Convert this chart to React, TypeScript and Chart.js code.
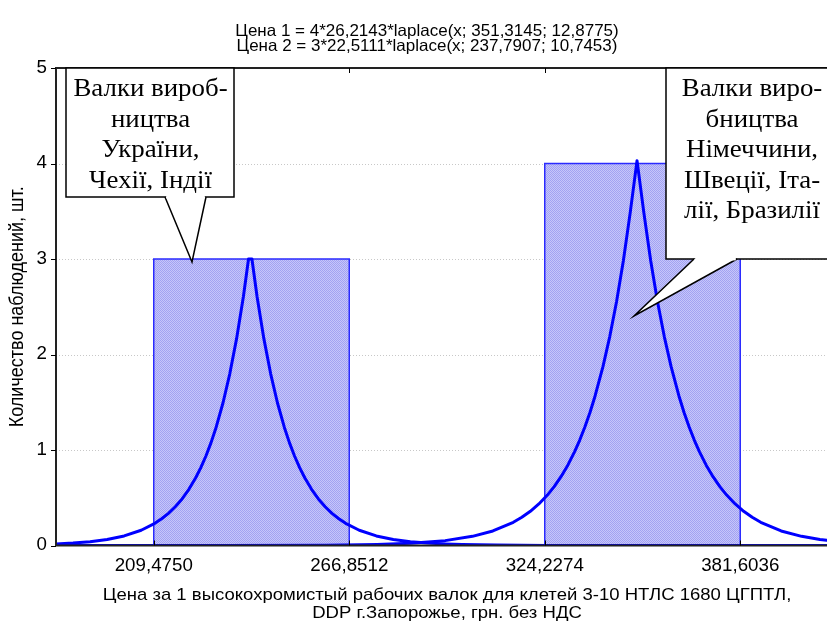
import React, { useEffect, useRef } from "react";
import { Chart, registerables } from "chart.js";

Chart.register(...registerables);

// ---------- data ----------
const titleLines = [
  "Цена 1 = 4*26,2143*laplace(x; 351,3145; 12,8775)",
  "Цена 2 = 3*22,5111*laplace(x; 237,7907; 10,7453)",
];
const xTitleLines = [
  "Цена за 1 высокохромистый рабочих валок для клетей 3-10 НТЛС 1680 ЦГПТЛ,",
  "DDP г.Запорожье, грн. без НДС",
];
const yTitle = "Количество наблюдений, шт.";

const binEdges = [209.475, 266.8512, 324.2274, 381.6036];
const binCounts = [3, 0, 4];
const xMin = 180.7869;
const xMax = 410.2917;
const yTicks = [0, 1, 2, 3, 4, 5];

// Цена 2 (centre ~237.8)
const curve2X = [
  180.79, 185.79, 190.79, 195.79, 200.79, 205.79, 209.79, 211.79, 213.79, 215.79,
  217.79, 219.79, 221.79, 223.29, 224.79, 226.29, 227.79, 229.79, 231.79, 233.79,
  235.79, 237.29, 238.29, 239.79, 241.79, 243.79, 245.79, 247.79, 249.29, 250.79,
  252.29, 253.79, 255.79, 257.79, 259.79, 261.79, 263.79, 265.79, 269.79, 274.79,
  279.79, 284.79, 289.79, 294.79, 300.0, 310.0, 325.0, 350.0, 410.29,
];
const curve2Y = [
  0.016, 0.025, 0.04, 0.063, 0.1, 0.16, 0.232, 0.28, 0.337, 0.406,
  0.488, 0.588, 0.709, 0.815, 0.937, 1.077, 1.239, 1.492, 1.798, 2.166,
  2.608, 3.0, 3.0, 2.608, 2.166, 1.798, 1.492, 1.239, 1.077, 0.937,
  0.815, 0.709, 0.588, 0.488, 0.406, 0.337, 0.28, 0.232, 0.16, 0.1,
  0.063, 0.04, 0.025, 0.016, 0.01, 0.004, 0.001, 0.0, 0.0,
];

// Цена 1 (centre ~351.3)
const curve1X = [
  180.79, 230.0, 260.0, 275.0, 285.0, 295.0, 303.0, 309.0, 315.0, 317.5,
  320.0, 322.5, 325.0, 327.0, 329.0, 331.0, 333.0, 334.5, 336.0, 337.5,
  339.0, 341.31, 343.31, 345.31, 347.31, 349.31, 351.31, 353.31, 355.31, 357.31,
  359.31, 361.31, 363.61, 365.11, 366.61, 368.11, 369.61, 371.61, 373.61, 375.61,
  377.61, 380.11, 382.61, 385.11, 387.61, 393.61, 399.61, 405.0, 410.29,
];
const curve1Y = [
  0.0, 0.0, 0.003, 0.011, 0.024, 0.051, 0.096, 0.152, 0.243, 0.295,
  0.358, 0.435, 0.528, 0.616, 0.721, 0.841, 0.983, 1.104, 1.241, 1.393,
  1.566, 1.873, 2.188, 2.555, 2.984, 3.486, 4.03, 3.486, 2.984, 2.555,
  2.188, 1.873, 1.566, 1.393, 1.241, 1.104, 0.983, 0.841, 0.721, 0.616,
  0.528, 0.435, 0.358, 0.295, 0.243, 0.152, 0.096, 0.063, 0.042,
];

const callout1Lines = ["Валки вироб-", "ництва", "України,", "Чехії, Індії"];
const callout2Lines = ["Валки виро-", "бництва", "Німеччини,", "Швеції, Іта-", "лії, Бразилії"];

// ---------- helpers ----------
const SANS = '"Liberation Sans", Arial, sans-serif';
const SERIF = '"Liberation Serif", "Times New Roman", serif';
const SX = 1.07;

function drawText(
  ctx: CanvasRenderingContext2D,
  text: string,
  x: number,
  y: number,
  font: string,
  align: CanvasTextAlign,
  sx: number,
  baseline: CanvasTextBaseline = "middle"
) {
  ctx.save();
  ctx.translate(x, y);
  ctx.scale(sx, 1);
  ctx.font = font;
  ctx.textAlign = align;
  ctx.textBaseline = baseline;
  ctx.fillStyle = "#000";
  ctx.fillText(text, 0, 0);
  ctx.restore();
}

function drawCallout(
  ctx: CanvasRenderingContext2D,
  box: [number, number, number, number],
  ptr: [number, number, number, number, number, number],
  lines: string[],
  cx: number,
  firstBaseline: number,
  lineGap: number
) {
  const [l, t, r, b] = box;
  const [bx1, by1, bx2, by2, tx, ty] = ptr;
  ctx.save();
  ctx.fillStyle = "#fff";
  ctx.strokeStyle = "#000";
  ctx.lineWidth = 1.5;
  ctx.lineJoin = "miter";
  ctx.fillRect(l, t, r - l, b - t);
  ctx.strokeRect(l, t, r - l, b - t);
  ctx.beginPath();
  ctx.moveTo(bx1, by1);
  ctx.lineTo(tx, ty);
  ctx.lineTo(bx2, by2);
  ctx.closePath();
  ctx.fill();
  ctx.beginPath();
  ctx.moveTo(bx1, by1);
  ctx.lineTo(tx, ty);
  ctx.lineTo(bx2, by2);
  ctx.stroke();
  ctx.fillRect(bx1 + 1.2, by1 - 1.2, bx2 - bx1 - 2.4, 2.6);
  ctx.restore();
  lines.forEach((s, i) => {
    drawText(ctx, s, cx, firstBaseline + i * lineGap, `25px ${SERIF}`, "center", 1.075, "alphabetic");
  });
}

function fmt(v: number) {
  return v.toFixed(4).replace(".", ",");
}

export default function App() {
  const ref = useRef<HTMLCanvasElement | null>(null);

  useEffect(() => {
    const canvas = ref.current;
    if (!canvas) return;

    const pc = document.createElement("canvas");
    pc.width = 2;
    pc.height = 2;
    const pctx = pc.getContext("2d")!;
    pctx.fillStyle = "#c6c6fa";
    pctx.fillRect(0, 0, 2, 2);
    pctx.fillStyle = "#a2a2f2";
    pctx.fillRect(0, 0, 1, 1);
    pctx.fillRect(1, 1, 1, 1);
    const pattern = canvas.getContext("2d")!.createPattern(pc, "repeat")!;

    const barDatasets: any[] = [];
    binCounts.forEach((c, i) => {
      if (c <= 0) return;
      const a = binEdges[i];
      const b = binEdges[i + 1];
      barDatasets.push({
        data: [
          { x: a, y: 0 },
          { x: a, y: c },
          { x: b, y: c },
          { x: b, y: 0 },
        ],
        showLine: true,
        fill: "origin",
        backgroundColor: pattern,
        borderColor: "#2b2bff",
        borderWidth: 1.5,
        pointRadius: 0,
        tension: 0,
        order: 5,
      });
    });

    const curveDs = (xs: number[], ys: number[]) => ({
      data: xs.map((x, i) => ({ x, y: ys[i] })),
      showLine: true,
      fill: false,
      borderColor: "#0000ff",
      borderWidth: 3,
      pointRadius: 0,
      tension: 0,
      order: 1,
      borderJoinStyle: "round" as const,
      borderCapStyle: "round" as const,
    });

    const decor = {
      id: "decor",
      beforeDatasetsDraw(chart: any) {
        const ctx: CanvasRenderingContext2D = chart.ctx;
        const { left, right } = chart.chartArea;
        const ys = chart.scales.y;
        ctx.save();
        ctx.strokeStyle = "#c8c8c8";
        ctx.lineWidth = 1;
        ctx.setLineDash([1, 2]);
        yTicks.slice(1, -1).forEach((v) => {
          const py = Math.round(ys.getPixelForValue(v)) + 0.5;
          ctx.beginPath();
          ctx.moveTo(left, py);
          ctx.lineTo(right, py);
          ctx.stroke();
        });
        ctx.restore();
      },
      afterDatasetsDraw(chart: any) {
        const ctx: CanvasRenderingContext2D = chart.ctx;
        const { left, right, top, bottom } = chart.chartArea;
        const xs = chart.scales.x;
        const ys = chart.scales.y;
        ctx.save();
        ctx.strokeStyle = "#222";
        ctx.lineWidth = 2;
        ctx.strokeRect(left, top, right - left, bottom - top);
        ctx.lineWidth = 1;
        ctx.strokeStyle = "#000";
        binEdges.forEach((v) => {
          const px = Math.round(xs.getPixelForValue(v)) + 0.5;
          ctx.beginPath();
          ctx.moveTo(px, bottom);
          ctx.lineTo(px, bottom - 5);
          ctx.moveTo(px, top);
          ctx.lineTo(px, top + 5);
          ctx.stroke();
        });
        yTicks.forEach((v) => {
          const py = Math.round(ys.getPixelForValue(v)) + 0.5;
          ctx.beginPath();
          ctx.moveTo(left - 5, py);
          ctx.lineTo(left, py);
          ctx.stroke();
        });
        ctx.restore();

        binEdges.forEach((v) => {
          drawText(ctx, fmt(v), xs.getPixelForValue(v), 566, `17.5px ${SANS}`, "center", SX);
        });
        yTicks.forEach((v) => {
          drawText(ctx, String(v), left - 9, ys.getPixelForValue(v), `17.5px ${SANS}`, "right", SX);
        });

        drawCallout(ctx, [66, top, 234, 197], [165, 197, 206, 197, 192, 262], callout1Lines, 150.5, 96, 30.7);
        drawCallout(ctx, [666, top, right, 259], [694, 259, 737, 259, 634, 316], callout2Lines, 752, 96, 30.6);
      },
      afterDraw(chart: any) {
        const ctx: CanvasRenderingContext2D = chart.ctx;
        const { left, right, top, bottom } = chart.chartArea;
        const W = chart.width;
        drawText(ctx, titleLines[0], W / 2, 31, `16.5px ${SANS}`, "center", 1.03);
        drawText(ctx, titleLines[1], W / 2, 46, `16.5px ${SANS}`, "center", 1.03);
        const cx = (left + right) / 2;
        drawText(ctx, xTitleLines[0], cx, 595, `17px ${SANS}`, "center", 1.09);
        drawText(ctx, xTitleLines[1], cx, 613, `17px ${SANS}`, "center", 1.09);
        ctx.save();
        ctx.translate(18, (top + bottom) / 2);
        ctx.scale(1.09, 1);
        ctx.rotate(-Math.PI / 2);
        ctx.font = `18px ${SANS}`;
        ctx.textAlign = "center";
        ctx.textBaseline = "middle";
        ctx.fillStyle = "#000";
        ctx.fillText(yTitle, 0, 0);
        ctx.restore();
      },
    };

    const chart = new Chart(canvas, {
      type: "scatter",
      data: {
        datasets: [curveDs(curve2X, curve2Y), curveDs(curve1X, curve1Y), ...barDatasets],
      },
      options: {
        responsive: false,
        animation: false,
        devicePixelRatio: 1,
        layout: { padding: { top: 68, right: 16, left: 0, bottom: 0 } },
        plugins: {
          legend: { display: false },
          tooltip: { enabled: false },
          title: { display: false },
        },
        scales: {
          x: {
            type: "linear",
            min: xMin,
            max: xMax,
            afterBuildTicks: (s: any) => {
              s.ticks = binEdges.map((v) => ({ value: v }));
            },
            afterFit: (s: any) => {
              s.height = 80.5;
            },
            ticks: { display: false },
            grid: { display: false },
            border: { display: false },
          },
          y: {
            type: "linear",
            min: 0,
            max: 5,
            afterBuildTicks: (s: any) => {
              s.ticks = yTicks.map((v) => ({ value: v }));
            },
            afterFit: (s: any) => {
              s.width = 56;
            },
            ticks: { display: false },
            grid: { display: false },
            border: { display: false },
          },
        },
      } as any,
      plugins: [decor],
    });

    return () => chart.destroy();
  }, []);

  return (
    <div
      style={{
        position: "fixed",
        left: 0,
        top: 0,
        width: 827,
        height: 626,
        overflow: "hidden",
        background: "#fff",
      }}
    >
      <canvas ref={ref} width={854} height={626} style={{ display: "block" }} />
    </div>
  );
}
